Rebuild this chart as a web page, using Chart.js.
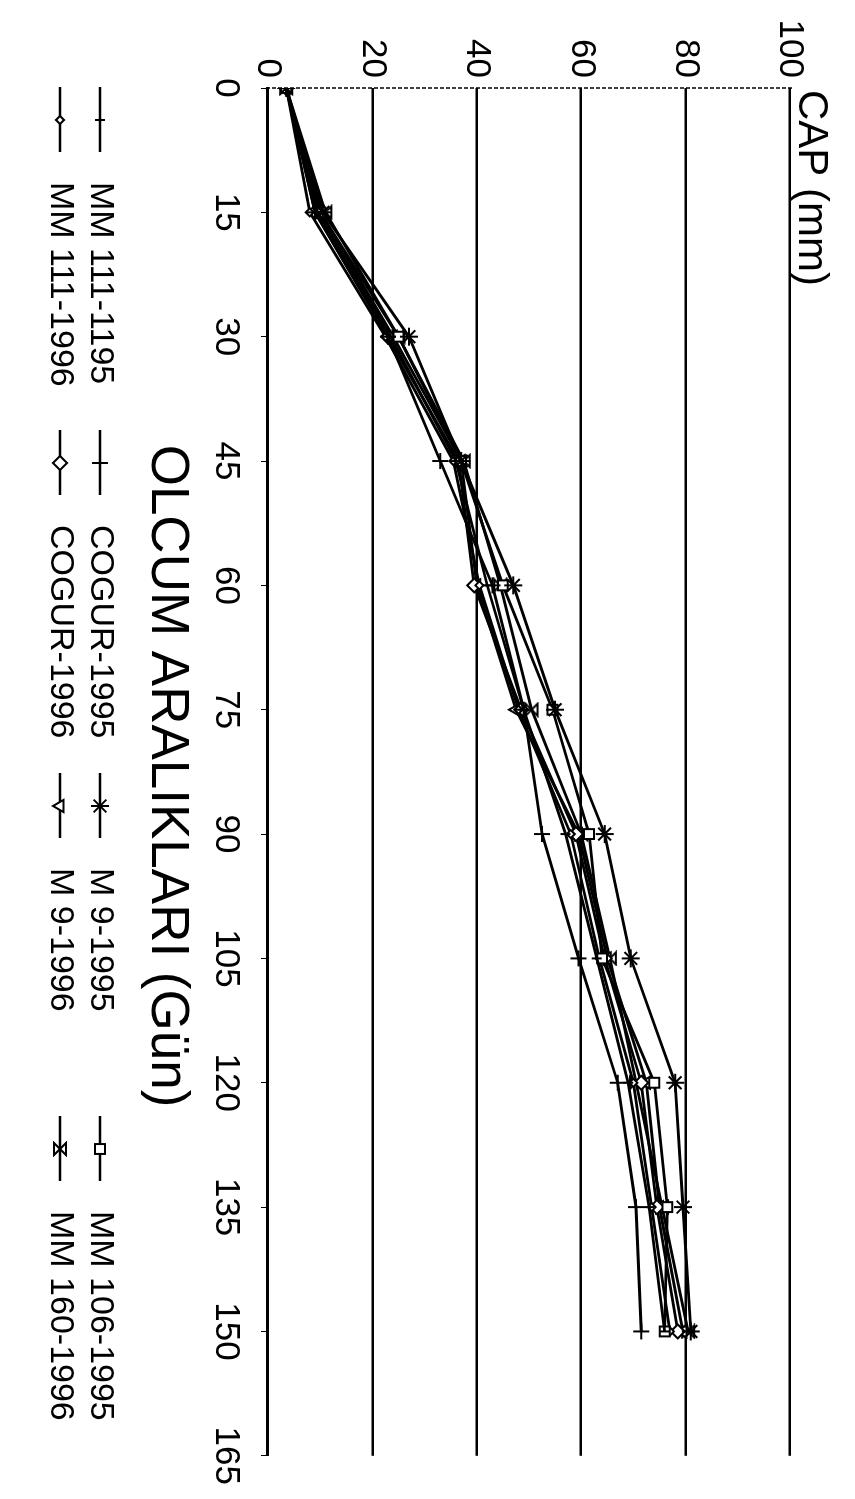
<!DOCTYPE html>
<html><head><meta charset="utf-8">
<script src="https://cdn.jsdelivr.net/npm/chart.js@4.4.0/dist/chart.umd.min.js"></script>
<style>
html,body{margin:0;padding:0;background:#fff;overflow:hidden;width:855px;height:1499px;}
#wrap{position:absolute;left:0;top:0;width:1499px;height:855px;transform-origin:0 0;transform:translate(855px,0) rotate(90deg);}
</style></head><body>
<div id="wrap"><canvas id="c" width="1499" height="855"></canvas></div>
<script>
// ---- data ----
const days = [0, 15, 30, 45, 60, 75, 90, 105, 120, 135, 150];
const xTicks = [0, 15, 30, 45, 60, 75, 90, 105, 120, 135, 150, 165];
const yTicks = [0, 20, 40, 60, 80, 100];
const seriesNames = ["MM 111-1195", "COGUR-1995", "M 9-1995", "MM 106-1995",
                     "MM 111-1996", "COGUR-1996", "M 9-1996", "MM 160-1996"];
const mm111_1995  = [3.5, 9.5, 23.5, 36, 42, 49, 57, 63, 69, 73, 76];
const cogur_1995  = [3.5, 9, 23, 33, 43, 49, 52.5, 59.5, 67, 70.5, 71.5];
const m9_1995     = [3.5, 10.5, 27, 37, 47, 55, 64.5, 69.5, 78, 79.5, 81];
const mm106_1995  = [3.5, 10, 25, 37, 45, 54.5, 61.5, 64, 74, 76.5, 76];
const mm111_1996  = [3.5, 8, 22.5, 35.5, 40.5, 48, 58, 63.5, 70, 73.5, 77];
const cogur_1996  = [3.5, 9, 23, 36.5, 39.5, 48.5, 59, 64.5, 71.5, 74.5, 78.5];
const m9_1996     = [3.5, 10, 24, 37, 40, 47.5, 59.5, 65, 72.5, 75, 79.5];
const mm160_1996  = [3.5, 11, 25, 37.5, 44.5, 50.5, 60, 65.5, 70.5, 75.5, 80.5];
const seriesValues = [mm111_1995, cogur_1995, m9_1995, mm106_1995,
                      mm111_1996, cogur_1996, m9_1996, mm160_1996];

const FONT = "'Liberation Sans', Arial, sans-serif";

function hourglass(){
  const c = document.createElement('canvas'); c.width = 16; c.height = 16;
  const g = c.getContext('2d');
  g.strokeStyle = '#000'; g.lineWidth = 2;
  g.beginPath(); g.moveTo(2,2); g.lineTo(14,2); g.lineTo(2,14); g.lineTo(14,14); g.closePath(); g.stroke();
  return c;
}
const markers = [
  {pointStyle:'line', rotation:90, radius:5},
  {pointStyle:'cross', rotation:0, radius:8},
  {pointStyle:'star', rotation:0, radius:9},
  {pointStyle:'rect', rotation:0, radius:7},
  {pointStyle:'rectRot', rotation:0, radius:4},
  {pointStyle:'rectRot', rotation:0, radius:7},
  {pointStyle:'triangle', rotation:180, radius:7},
  {pointStyle:hourglass(), rotation:0, radius:8}
];

const datasets = seriesNames.map((n, i) => ({
  label: n,
  data: days.map((d, k) => ({x: d, y: seriesValues[i][k]})),
  borderColor: '#000',
  backgroundColor: '#fff',
  borderWidth: 2.8,
  pointStyle: markers[i].pointStyle,
  pointRotation: markers[i].rotation,
  pointRadius: markers[i].radius,
  pointBorderWidth: 2,
  pointBorderColor: '#000',
  pointBackgroundColor: '#fff',
  tension: 0
}));

const extras = {
  id: 'extras',
  beforeDatasetsDraw(chart){
    const ctx = chart.ctx, a = chart.chartArea;
    ctx.save();
    ctx.strokeStyle = '#000'; ctx.lineWidth = 1.5; ctx.setLineDash([4, 2]);
    ctx.beginPath(); ctx.moveTo(a.left, a.top - 2); ctx.lineTo(a.left, a.bottom); ctx.stroke();
    ctx.restore();
  },
  afterDraw(chart){
    const ctx = chart.ctx, a = chart.chartArea;
    ctx.save();
    ctx.fillStyle = '#000';
    ctx.font = '42px ' + FONT;
    ctx.textAlign = 'left'; ctx.textBaseline = 'middle';
    ctx.fillText('CAP (mm)', a.left + 2, 44);
    ctx.font = '53px ' + FONT;
    ctx.textAlign = 'center';
    ctx.fillText('OLCUM ARALIKLARI (Gün)', 776, 688);
    ctx.font = '34px ' + FONT;
    ctx.textAlign = 'left';
    chart.data.datasets.forEach((ds, i) => {
      const row = i < 4 ? 0 : 1, col = i % 4;
      const ty = row === 0 ? 755 : 795;
      const tx = 182 + col * 343;
      ctx.strokeStyle = '#000'; ctx.lineWidth = 2.5;
      ctx.beginPath(); ctx.moveTo(tx - 95, ty); ctx.lineTo(tx - 30, ty); ctx.stroke();
      ctx.fillStyle = '#fff'; ctx.lineWidth = 2;
      Chart.helpers.drawPoint(ctx, {pointStyle: ds.pointStyle, rotation: ds.pointRotation,
        radius: ds.pointRadius, borderWidth: 2}, tx - 62, ty);
      ctx.fillStyle = '#000';
      ctx.fillText(ds.label, tx, ty);
    });
    ctx.restore();
  }
};

new Chart(document.getElementById('c'), {
  type: 'line',
  data: {datasets},
  options: {
    responsive: false, animation: false,
    layout: {padding: {left: 0, right: 37, top: 65, bottom: 0}},
    plugins: {legend: {display: false}, tooltip: {enabled: false}},
    scales: {
      x: {
        type: 'linear', min: 0, max: 165,
        afterBuildTicks: s => { s.ticks = xTicks.map(v => ({value: v})); },
        afterFit: s => { s.height = 268; },
        grid: {display: true, drawOnChartArea: false, drawTicks: true, tickLength: 7, color: '#000', lineWidth: 1},
        border: {display: true, color: '#000', width: 3},
        ticks: {color: '#000', font: {family: FONT, size: 35}, padding: 14, maxRotation: 0, autoSkip: false}
      },
      y: {
        type: 'linear', min: 0, max: 100,
        afterBuildTicks: s => { s.ticks = yTicks.map(v => ({value: v})); },
        afterFit: s => { s.width = 88; },
        grid: {color: '#000', lineWidth: 2.5, drawTicks: false},
        border: {display: false},
        ticks: {color: '#000', font: {family: FONT, size: 35}, padding: 10}
      }
    }
  },
  plugins: [extras]
});
</script>
</body></html>
